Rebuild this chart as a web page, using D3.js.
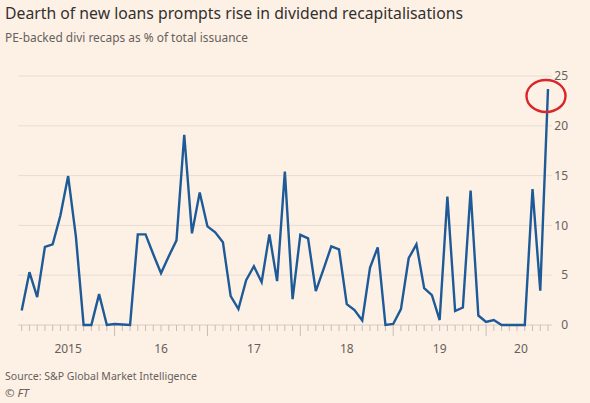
<!DOCTYPE html>
<html>
<head>
<meta charset="utf-8">
<script src="https://cdn.jsdelivr.net/npm/d3@7"></script>
<style>
  html, body { margin: 0; padding: 0; background: #fdf1e6; }
  svg { display: block; }
  text { font-family: "Noto Sans", "Open Sans", sans-serif; }
</style>
</head>
<body>
<svg id="chart" width="590" height="403"></svg>
<script>
// ---- data ----
const title = "Dearth of new loans prompts rise in dividend recapitalisations";
const subtitle = "PE-backed divi recaps as % of total issuance";
const source = "Source: S&P Global Market Intelligence";
// monthly, Jan 2015 .. Sep 2020
const startYear = 2015;
const values = [
  1.45, 5.3, 2.8, 7.85, 8.1, 11.0, 14.95, 8.9, 0, 0, 3.1, 0,
  0.1, 0.05, 0, 9.1, 9.1, 7.1, 5.2, 6.9, 8.5, 19.1, 9.2, 13.3,
  9.9, 9.3, 8.3, 2.9, 1.6, 4.5, 5.9, 4.3, 9.1, 4.4, 15.4, 2.6,
  9.05, 8.7, 3.4, 5.6, 7.9, 7.6, 2.1, 1.5, 0.45, 5.75, 7.8, 0,
  0.1, 1.6, 6.7, 8.1, 3.7, 3.0, 0.5, 12.9, 1.4, 1.75, 13.5, 0.95,
  0.3, 0.5, 0, 0, 0, 0, 13.65, 3.45, 23.7
];
const yTicks = [0, 5, 10, 15, 20, 25];
const yearLabels = ["2015", "16", "17", "18", "19", "20"];

// ---- layout ----
const svg = d3.select("#chart");
const W = 590, H = 403;
svg.append("rect").attr("width", W).attr("height", H).attr("fill", "#fdf1e6");

const x = d3.scaleLinear().domain([0, values.length - 1]).range([21.7, 548]);
const y = d3.scaleLinear().domain([0, 25]).range([325, 76]);

// title & subtitle
svg.append("text").attr("x", 5).attr("y", 19)
  .attr("font-size", 17).attr("fill", "#33302e")
  .attr("textLength", 458).attr("lengthAdjust", "spacingAndGlyphs")
  .text(title);
svg.append("text").attr("x", 5).attr("y", 42)
  .attr("font-size", 12.5).attr("fill", "#66605c")
  .attr("textLength", 243).attr("lengthAdjust", "spacingAndGlyphs")
  .text(subtitle);

// gridlines
svg.append("g").selectAll("line").data(yTicks).join("line")
  .attr("x1", 18).attr("x2", 552)
  .attr("y1", d => y(d)).attr("y2", d => y(d))
  .attr("stroke", d => d === 0 ? "#d9cbbf" : "#e8dcd1")
  .attr("stroke-width", 1);

// y labels (right side)
svg.append("g").selectAll("text").data(yTicks).join("text")
  .attr("x", 568).attr("y", d => y(d)).attr("dy", "0.35em")
  .attr("text-anchor", "end").attr("font-size", 12).attr("fill", "#66605c")
  .text(d => d);

// x ticks: monthly, year boundaries longer
const tickIdx = d3.range(values.length);
svg.append("g").selectAll("line").data(tickIdx).join("line")
  .attr("x1", d => x(d)).attr("x2", d => x(d))
  .attr("y1", y(0)).attr("y2", d => (d % 12 === 0 && d > 0) ? y(0) + 11 : y(0) + 6)
  .attr("stroke", "#c9bdb2").attr("stroke-width", 1);

// year labels centered on each year's span
svg.append("g").selectAll("text").data(yearLabels).join("text")
  .attr("x", (d, i) => {
    const s = i * 12;
    const e = Math.min((i + 1) * 12, values.length);
    return (x(s) + x(e)) / 2;
  })
  .attr("y", 353).attr("text-anchor", "middle")
  .attr("font-size", 12).attr("fill", "#66605c")
  .text(d => d);

// line
const line = d3.line().x((d, i) => x(i)).y(d => y(d)).curve(d3.curveLinear);
svg.append("path").datum(values)
  .attr("d", line).attr("fill", "none")
  .attr("stroke", "#1d5a97").attr("stroke-width", 2.4)
  .attr("stroke-linejoin", "miter").attr("stroke-miterlimit", 4);

// red highlight ellipse around the last point
const last = values.length - 1;
svg.append("ellipse")
  .attr("cx", x(last) - 2).attr("cy", y(values[last]) + 7)
  .attr("rx", 19.5).attr("ry", 16)
  .attr("fill", "none").attr("stroke", "#d9262b").attr("stroke-width", 2.4);

// source
svg.append("text").attr("x", 5).attr("y", 380)
  .attr("font-size", 11.5).attr("fill", "#66605c")
  .attr("textLength", 192).attr("lengthAdjust", "spacingAndGlyphs")
  .text(source);
const ft = svg.append("text").attr("x", 5).attr("y", 397)
  .attr("font-size", 11.5).attr("fill", "#66605c");
ft.append("tspan").text("© ");
ft.append("tspan").attr("font-style", "italic").text("FT");
</script>
</body>
</html>
